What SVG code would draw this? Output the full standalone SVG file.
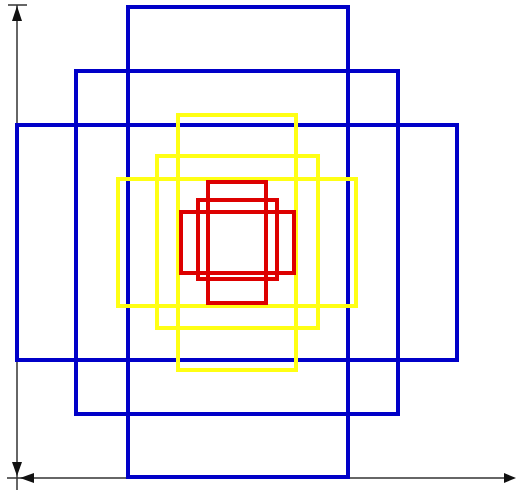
<svg xmlns="http://www.w3.org/2000/svg" width="517" height="498" viewBox="0 0 517 498">
  <defs>
    <style>
      .axis { stroke: #333; stroke-width: 1.5; fill: none; }
      .head { fill: #111; stroke: none; }
      .blue { fill: none; stroke: #0000c8; stroke-width: 4; }
      .yellow { fill: none; stroke: #ffff14; stroke-width: 4; }
      .red { fill: none; stroke: #dd0000; stroke-width: 4; }
    </style>
  </defs>
  <rect width="517" height="498" fill="#ffffff"/>
  <g id="axes">
    <line class="axis" x1="17" y1="5" x2="17" y2="490"/>
    <line class="axis" x1="8" y1="5" x2="27" y2="5"/>
    <polygon class="head" points="17,6 12,21 22,21"/>
    <polygon class="head" points="17,476 12,462 22,462"/>
    <line class="axis" x1="7" y1="478" x2="512" y2="478"/>
    <polygon class="head" points="20,478 34,473 34,483"/>
    <polygon class="head" points="516,478 504,473 504,483"/>
  </g>
  <g id="blue-boxes">
    <rect id="blue-tall" class="blue" x="128" y="7" width="220" height="470"/>
    <rect id="blue-medium" class="blue" x="76" y="71" width="322" height="343"/>
    <rect id="blue-wide" class="blue" x="17" y="125" width="440" height="235"/>
  </g>
  <g id="yellow-boxes">
    <rect id="yellow-tall" class="yellow" x="178" y="115" width="118" height="255"/>
    <rect id="yellow-medium" class="yellow" x="157" y="156" width="161" height="172"/>
    <rect id="yellow-wide" class="yellow" x="118" y="179" width="238" height="127"/>
  </g>
  <g id="red-boxes">
    <rect id="red-tall" class="red" x="208" y="182" width="58" height="121"/>
    <rect id="red-medium" class="red" x="198" y="200" width="79" height="79"/>
    <rect id="red-wide" class="red" x="181" y="212" width="113" height="61"/>
  </g>
</svg>
